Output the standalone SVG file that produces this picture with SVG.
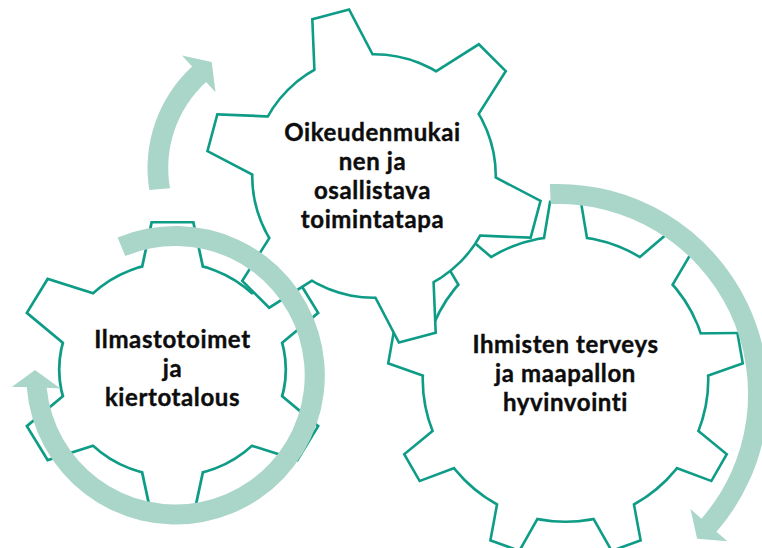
<svg xmlns="http://www.w3.org/2000/svg" width="762" height="548" viewBox="0 0 762 548">
<style>
.edge{fill:#0E9C87;stroke:#0E9C87;stroke-width:5.2;stroke-linejoin:miter}
.face{fill:#ffffff;stroke:none}
.lbl{font-family:Lato,"Open Sans","Liberation Sans",sans-serif;font-weight:700;font-size:24px;letter-spacing:0.6px;fill:#0d0d0d;stroke:#0d0d0d;stroke-width:0.4px;text-anchor:middle}
.arrow{fill:#AAD6CA;stroke:none}
</style>
<defs>
<polygon id="toothR" points="130,-22 176,-14.3 176,14.3 130,22"/>
<polygon id="toothT" points="107,-31.2 166,-18 166,18 107,31.2"/>
<polygon id="toothL" points="92,-29.5 146,-18.6 146,18.6 92,29.5"/>
<g id="gearR">
<circle r="141.5"/>
<use href="#toothR" transform="rotate(-90)"/>
<use href="#toothR" transform="rotate(-50)"/>
<use href="#toothR" transform="rotate(-10)"/>
<use href="#toothR" transform="rotate(30)"/>
<use href="#toothR" transform="rotate(70)"/>
<use href="#toothR" transform="rotate(110)"/>
<use href="#toothR" transform="rotate(150)"/>
<use href="#toothR" transform="rotate(190)"/>
<use href="#toothR" transform="rotate(230)"/>
</g>
<g id="gearT">
<circle r="120.5"/>
<use href="#toothT" transform="rotate(-105)"/>
<use href="#toothT" transform="rotate(-45)"/>
<use href="#toothT" transform="rotate(15)"/>
<use href="#toothT" transform="rotate(75)"/>
<use href="#toothT" transform="rotate(135)"/>
<use href="#toothT" transform="rotate(195)"/>
</g>
<g id="gearL">
<circle r="105.6"/>
<use href="#toothL" transform="rotate(-90)"/>
<use href="#toothL" transform="rotate(-30)"/>
<use href="#toothL" transform="rotate(30)"/>
<use href="#toothL" transform="rotate(90)"/>
<use href="#toothL" transform="rotate(150)"/>
<use href="#toothL" transform="rotate(210)"/>
</g>
</defs>
<rect width="762" height="548" fill="#ffffff"/>

<g id="node-terveys">
<g transform="translate(565.5,379)">
<use href="#gearR" class="edge"/>
<use href="#gearR" class="face"/>
</g>
<text class="lbl" x="565.5" y="353">Ihmisten terveys</text>
<text class="lbl" x="565.5" y="382">ja maapallon</text>
<text class="lbl" x="565.5" y="411">hyvinvointi</text>
</g>

<g id="node-ilmasto">
<g transform="translate(172.5,369.5) scale(1.06,1)">
<use href="#gearL" class="edge"/>
<use href="#gearL" class="face"/>
</g>
<text class="lbl" x="172.5" y="348">Ilmastotoimet</text>
<text class="lbl" x="172.5" y="377">ja</text>
<text class="lbl" x="172.5" y="406">kiertotalous</text>
</g>

<g id="node-oikeudenmukainen">
<g transform="translate(374,176)">
<use href="#gearT" class="edge"/>
<use href="#gearT" class="face"/>
</g>
<text class="lbl" x="372.5" y="141">Oikeudenmukai</text>
<text class="lbl" x="372.5" y="170">nen ja</text>
<text class="lbl" x="372.5" y="199">osallistava</text>
<text class="lbl" x="372.5" y="228">toimintatapa</text>
</g>

<g id="connectors">
<path class="arrow" d="M149.3,190 A137.5,137.5 0 0,1 192.1,66.6 L182,55.6 L211.7,62.1 L215.5,92.2 L206.1,81.9 A116.8,116.8 0 0,0 170,188.3 Z"/>
<path class="arrow" d="M117.6,237.6 A149.3,149.3 0 1,1 26.7,387 L11.7,387 L35,370 L60.5,388.5 L46.7,387.7 A129.3,129.3 0 1,0 125.3,256 Z"/>
<path class="arrow" d="M549.9,184.1 A210,210 0 0,1 716.5,531.8 L727.4,541.3 L697.1,538.8 L690.5,509.1 L701.4,518.7 A190,190 0 0,0 550.7,204.1 Z"/>
</g>
</svg>
